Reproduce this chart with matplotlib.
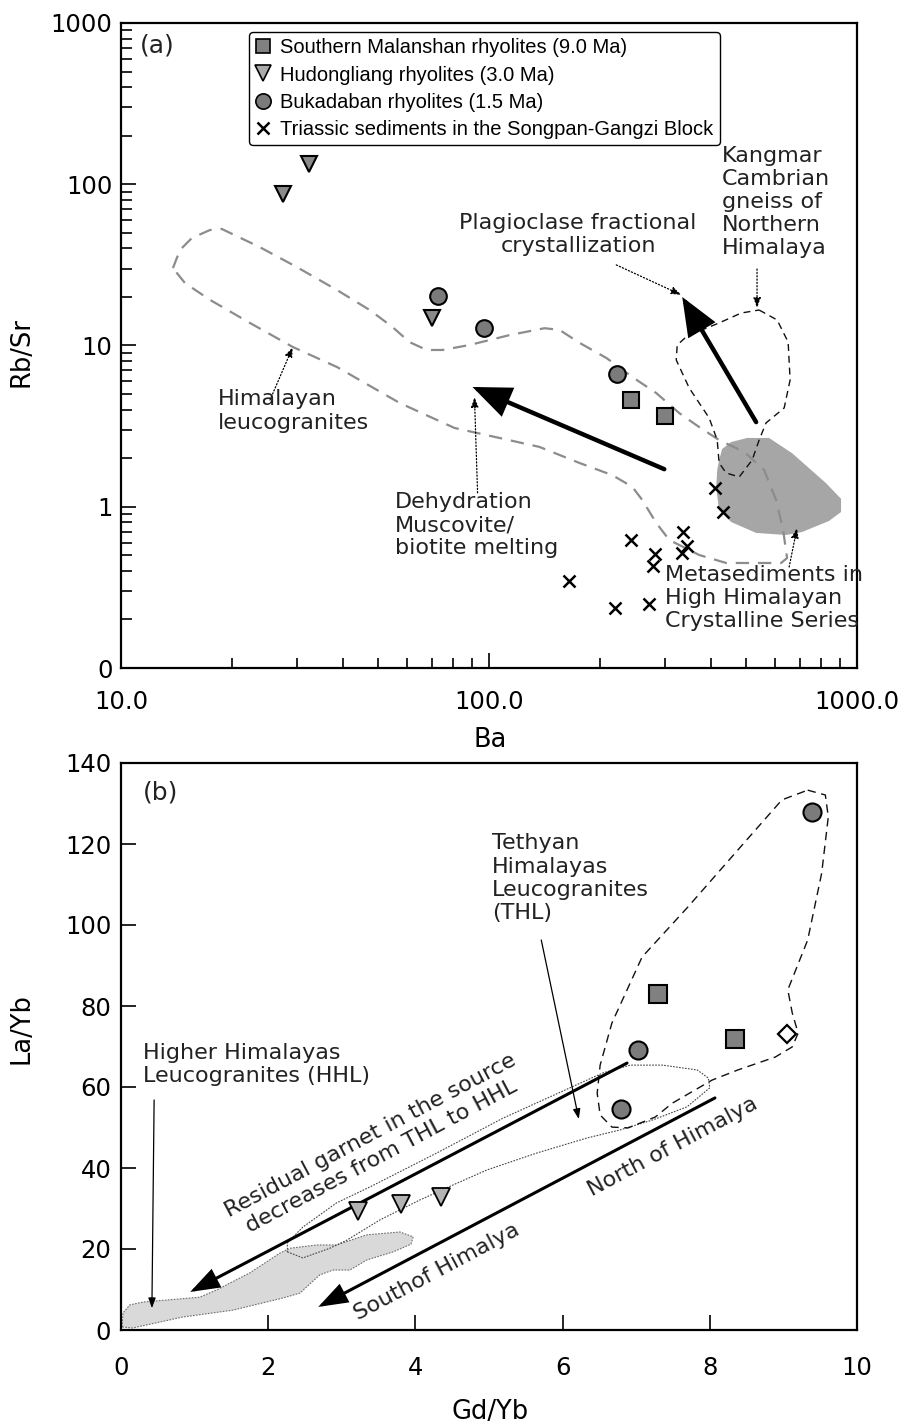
import matplotlib
matplotlib.use('Agg')
import matplotlib.pyplot as plt
from matplotlib.lines import Line2D
from matplotlib.ticker import FixedLocator, LogLocator, NullFormatter

plt.rcParams['font.family'] = 'DejaVu Sans'

# ---------------- (a) Ba vs Rb/Sr ----------------
malanshan_ba = [243.6, 301.3]
malanshan_rbsr = [4.59, 3.65]
hudongliang_ba = [27.5, 32.4, 69.8]
hudongliang_rbsr = [87.0, 133.6, 14.8]
bukadaban_ba = [72.5, 97.2, 223.2]
bukadaban_rbsr = [20.3, 12.8, 6.66]
triassic_ba = [411.8, 433, 243.6, 337, 345.6, 335, 283, 279.6, 165.4, 220.4, 272.6]
triassic_rbsr = [1.31, 0.928, 0.622, 0.697, 0.571, 0.517, 0.509, 0.429, 0.346, 0.236, 0.249]

# Himalayan leucogranite field
leuco_ba = [13.84, 14.46, 15.58, 17.44, 18.79, 23.8, 30.0, 38.6, 47.4, 54.7, 60.8, 67.7,
            74.8, 88.5, 113.7, 141.5, 155.4, 176, 208.4, 245.1, 284.8, 328.8, 372.6, 422.2,
            493.6, 559.2, 602.9, 629.8, 645.7, 622, 441, 372.6, 309, 284.8, 261, 245.1,
            216.3, 176, 137.1, 106.8, 80.6, 57.2, 38.6, 29.3, 22.4, 17.44, 14.92, 13.84]
leuco_rbsr = [30.2, 39.1, 46.4, 52.0, 52.8, 40.8, 30.7, 22.1, 16.6, 13.0, 10.5, 9.38,
              9.38, 10.07, 11.6, 12.8, 12.5, 10.4, 8.37, 6.38, 5.07, 3.81, 3.12, 2.59,
              2.19, 1.69, 1.10, 0.718, 0.481, 0.448, 0.448, 0.502, 0.622, 0.793, 1.10, 1.33,
              1.57, 1.87, 2.35, 2.67, 3.08, 4.40, 7.36, 9.79, 13.8, 19.2, 24.4, 30.2]
# Kangmar Cambrian gneiss field
kangmar_ba = [542, 606.6, 650, 658, 634, 566, 542, 519, 478.5, 441, 422, 417, 396.6,
              350, 322.7, 324.7, 345.6, 422, 484.5, 542]
kangmar_rbsr = [16.6, 14.4, 10.5, 6.11, 4.10, 3.31, 2.59, 1.95, 1.53, 1.62, 1.87, 2.59,
                3.55, 5.45, 8.13, 10.07, 11.45, 13.8, 15.9, 16.6]
# HHCS metasediments field
metased_ba = [422.2, 430, 455, 502.7, 577, 666, 824, 905, 905, 839, 709, 642, 532,
              455, 422, 414.4, 417]
metased_rbsr = [1.95, 2.28, 2.52, 2.67, 2.67, 2.15, 1.40, 1.12, 0.928, 0.816, 0.697,
                0.668, 0.688, 0.804, 0.955, 1.31, 1.69]

# trend arrows (tail, head)
dehydration_arrow = [(299.4, 1.71), (90.2, 5.53)]
plagioclase_arrow = [(532, 3.35), (335, 20.0)]

# ---------------- (b) Gd/Yb vs La/Yb ----------------
malanshan_gdyb = [7.30, 8.34]
malanshan_layb = [83.0, 71.9]
hudongliang_gdyb = [3.22, 3.80, 4.35]
hudongliang_layb = [29.4, 31.1, 32.8]
bukadaban_gdyb = [9.39, 7.02, 6.79]
bukadaban_layb = [127.9, 69.1, 54.6]
other_gdyb = [9.05]
other_layb = [73.1]

hhl_gdyb = [0.014, 0.027, 0.12, 0.30, 1.07, 1.30, 1.75, 2.16, 2.30, 2.66, 2.93, 3.34,
            3.79, 3.97, 3.94, 3.70, 3.34, 3.11, 2.88, 2.70, 2.43, 2.20, 1.52, 0.84, 0.16]
hhl_layb = [0.74, 4.2, 6.2, 6.9, 8.1, 9.9, 14.1, 19.0, 20.2, 21.0, 21.0, 23.5,
            24.2, 23.0, 21.2, 19.3, 17.3, 14.8, 14.8, 13.6, 9.1, 7.9, 4.9, 3.2, 0.5]
thl_gdyb = [2.26, 2.47, 2.84, 3.07, 3.52, 4.06, 4.51, 4.97, 5.65, 6.33, 6.78, 7.23, 7.69,
            8.00, 7.98, 7.83, 7.36, 6.92, 6.55, 6.10, 5.19, 4.29, 3.38, 2.93, 2.47, 2.26]
thl_layb = [19.3, 17.8, 20.2, 22.2, 27.2, 32.1, 35.8, 39.5, 43.7, 47.4, 49.4, 51.9, 55.1,
            59.8, 62.2, 64.2, 65.4, 65.4, 63.5, 59.8, 52.3, 43.7, 35.3, 31.4, 25.4, 21.5]
tethyan_gdyb = [9.33, 9.57, 9.61, 9.52, 9.33, 9.06, 9.12, 9.20, 9.12, 8.89, 8.38, 8.03,
                7.49, 7.26, 6.89, 6.67, 6.51, 6.47, 6.51, 6.67, 7.08, 7.70, 8.38, 8.98]
tethyan_layb = [133.3, 132.1, 126.7, 112.8, 96.3, 84.0, 78.3, 73.3, 69.9, 67.4, 64.2, 61.7,
                56.0, 52.6, 49.9, 50.1, 53.1, 58.5, 65.4, 75.8, 92.1, 104.4, 118.5, 130.9]

garnet_arrow = [(6.875, 65.9), (0.94, 9.4)]
north_south_arrow = [(8.07, 57.3), (2.68, 5.7)]

SQ_COLOR = '#808080'
CI_COLOR = '#7b7b7b'
TRI_A_COLOR = '#8a8a8a'
TRI_B_COLOR = '#b3b3b3'
LABEL_SIZE = 18.5


def closed(xs, ys):
    return list(xs) + [xs[0]], list(ys) + [ys[0]]


def big_arrow(ax, tail, head, lw, hl, hw):
    ax.annotate('', xy=head, xytext=tail,
                arrowprops=dict(arrowstyle=f'-|>,head_length={hl},head_width={hw}',
                                lw=lw, color='k', shrinkA=0, shrinkB=0,
                                mutation_scale=1, joinstyle='miter'), zorder=4)


def pointer(ax, tail, head, ls):
    ax.annotate('', xy=head, xytext=tail,
                arrowprops=dict(arrowstyle='-|>,head_length=6,head_width=2.2',
                                lw=0.9, ls=ls, color='k', shrinkA=0, shrinkB=0,
                                mutation_scale=1), zorder=4)


fig = plt.figure(figsize=(9.1, 14.25), dpi=100)
ax1 = fig.add_axes([121 / 910, 1 - 668 / 1425, 736 / 910, 645 / 1425])
ax2 = fig.add_axes([121 / 910, 1 - 1330 / 1425, 736 / 910, 567 / 1425])

for ax in (ax1, ax2):
    for sp in ax.spines.values():
        sp.set_linewidth(1.6)
    ax.tick_params(which='both', direction='in', labelsize=17.5, width=1.2,
                   top=False, right=False)

# ---- panel (a) ----
ax1.set_xscale('log')
ax1.set_yscale('log')
ax1.set_xlim(10, 1000)
ax1.set_ylim(0.1, 1000)

ax1.fill(metased_ba, metased_rbsr, color='#a6a6a6', lw=0, zorder=1)
lx, ly = closed(leuco_ba, leuco_rbsr)
ax1.plot(lx, ly, color='#8c8c8c', lw=1.6, dashes=(6, 4), zorder=2)
kx, ky = closed(kangmar_ba, kangmar_rbsr)
ax1.plot(kx, ky, color='#111111', lw=1.0, dashes=(5, 3.5), zorder=2)

big_arrow(ax1, dehydration_arrow[0], dehydration_arrow[1], 3.2, 22, 9)
big_arrow(ax1, plagioclase_arrow[0], plagioclase_arrow[1], 3.2, 22, 9)

pointer(ax1, (25.4, 4.59), (29.3, 9.79), ':')
pointer(ax1, (93.1, 1.22), (91.3, 4.79), ':')
pointer(ax1, (221.8, 31.6), (333, 20.6), ':')
pointer(ax1, (535, 29.8), (535, 17.1), ':')
pointer(ax1, (654, 0.423), (687, 0.738), ':')

ax1.plot(triassic_ba, triassic_rbsr, ls='none', marker='x', ms=9, mew=1.8,
         color='k', zorder=5)
ax1.plot(hudongliang_ba, hudongliang_rbsr, ls='none', marker='v', ms=12, mew=1.5,
         mfc=TRI_A_COLOR, mec='k', zorder=5)
ax1.plot(bukadaban_ba, bukadaban_rbsr, ls='none', marker='o', ms=12, mew=1.5,
         mfc=CI_COLOR, mec='k', zorder=5)
ax1.plot(malanshan_ba, malanshan_rbsr, ls='none', marker='s', ms=11.5, mew=1.5,
         mfc=SQ_COLOR, mec='k', zorder=5)

ax1.xaxis.set_major_locator(FixedLocator([10, 100, 1000]))
ax1.set_xticklabels(['10.0', '100.0', '1000.0'])
ax1.xaxis.set_minor_locator(LogLocator(base=10, subs=range(2, 10)))
ax1.xaxis.set_minor_formatter(NullFormatter())
ax1.yaxis.set_major_locator(FixedLocator([0.1, 1, 10, 100, 1000]))
ax1.set_yticklabels(['0', '1', '10', '100', '1000'])
ax1.yaxis.set_minor_locator(LogLocator(base=10, subs=range(2, 10)))
ax1.yaxis.set_minor_formatter(NullFormatter())
ax1.tick_params(axis='x', which='major', length=11, pad=16)
ax1.tick_params(axis='x', which='minor', length=7.5)
ax1.tick_params(axis='y', which='major', length=11, pad=6)
ax1.tick_params(axis='y', which='minor', length=8)

ax1.set_xlabel('Ba', fontsize=LABEL_SIZE)
ax1.set_ylabel('Rb/Sr', fontsize=LABEL_SIZE)
ax1.xaxis.set_label_coords(0.501, -0.091)
ax1.yaxis.set_label_coords(-0.118, 0.49)

tkw = dict(transform=ax1.transAxes, fontsize=16, va='top', color='#222222', zorder=6)
ax1.text(0.026, 0.984, '(a)', **dict(tkw, fontsize=18))
ax1.text(0.8166, 0.810, 'Kangmar\nCambrian\ngneiss of\nNorthern\nHimalaya', ha='left', **tkw)
ax1.text(0.621, 0.705, 'Plagioclase fractional\ncrystallization', ha='center', **tkw)
ax1.text(0.132, 0.432, 'Himalayan\nleucogranites', ha='left', **tkw)
ax1.text(0.372, 0.273, 'Dehydration\nMuscovite/\nbiotite melting', ha='left', **tkw)
ax1.text(0.739, 0.160, 'Metasediments in\nHigh Himalayan\nCrystalline Series', ha='left', **tkw)

handles = [
    Line2D([], [], ls='none', marker='s', ms=10.5, mew=1.2, mfc=SQ_COLOR, mec='k'),
    Line2D([], [], ls='none', marker='v', ms=11.5, mew=1.2, mfc='#ababab', mec='k'),
    Line2D([], [], ls='none', marker='o', ms=11, mew=1.2, mfc=CI_COLOR, mec='k'),
    Line2D([], [], ls='none', marker='x', ms=9, mew=1.8, color='k'),
]
labels = ['Southern Malanshan rhyolites (9.0 Ma)', 'Hudongliang rhyolites (3.0 Ma)',
          'Bukadaban rhyolites (1.5 Ma)', 'Triassic sediments in the Songpan-Gangzi Block']
leg = ax1.legend(handles, labels, loc='upper left', bbox_to_anchor=(0.174, 0.986),
                 prop={'family': 'Liberation Sans', 'size': 14.5}, frameon=True,
                 fancybox=True, edgecolor='k', framealpha=1, borderpad=0.3,
                 labelspacing=0.42, handlelength=0.8, handletextpad=0.45, borderaxespad=0)
leg.get_frame().set_linewidth(1.0)
leg.set_zorder(7)

# ---- panel (b) ----
ax2.set_xlim(0, 10)
ax2.set_ylim(0, 140)

ax2.fill(hhl_gdyb, hhl_layb, facecolor='#d9d9d9', edgecolor='#6f6f6f', lw=0.8,
         ls=(0, (1.5, 1.2)), zorder=1)
tx, ty = closed(thl_gdyb, thl_layb)
ax2.plot(tx, ty, color='#444444', lw=0.8, dashes=(1.5, 1.2), zorder=2)
ex, ey = closed(tethyan_gdyb, tethyan_layb)
ax2.plot(ex, ey, color='#111111', lw=1.0, dashes=(6, 4), zorder=2)

big_arrow(ax2, garnet_arrow[0], garnet_arrow[1], 2.2, 17, 6)
big_arrow(ax2, north_south_arrow[0], north_south_arrow[1], 2.2, 17, 6)
pointer(ax2, (0.45, 56.8), (0.42, 5.4), '-')
pointer(ax2, (5.71, 96.3), (6.22, 52.1), '-')

ax2.plot(hudongliang_gdyb, hudongliang_layb, ls='none', marker='v', ms=12.5, mew=1.3,
         mfc=TRI_B_COLOR, mec='k', zorder=5)
ax2.plot(bukadaban_gdyb, bukadaban_layb, ls='none', marker='o', ms=13, mew=1.5,
         mfc=CI_COLOR, mec='k', zorder=5)
ax2.plot(malanshan_gdyb, malanshan_layb, ls='none', marker='s', ms=12.5, mew=1.5,
         mfc=SQ_COLOR, mec='k', zorder=5)
ax2.plot(other_gdyb, other_layb, ls='none', marker='D', ms=9, mew=1.6,
         mfc='white', mec='k', zorder=5)

ax2.set_xticks([0, 2, 4, 6, 8, 10])
ax2.set_yticks([0, 20, 40, 60, 80, 100, 120, 140])
ax2.tick_params(axis='x', length=11, pad=19)
ax2.tick_params(axis='y', length=11, pad=7)
ax2.set_xlabel('Gd/Yb', fontsize=LABEL_SIZE)
ax2.set_ylabel('La/Yb', fontsize=LABEL_SIZE)
ax2.xaxis.set_label_coords(0.501, -0.121)
ax2.yaxis.set_label_coords(-0.118, 0.531)

tkw2 = dict(transform=ax2.transAxes, fontsize=16, color='#222222', zorder=6)
ax2.text(0.030, 0.970, '(b)', va='top', **dict(tkw2, fontsize=18))
ax2.text(0.504, 0.876, 'Tethyan\nHimalayas\nLeucogranites\n(THL)', va='top', ha='left', **tkw2)
ax2.text(0.030, 0.506, 'Higher Himalayas\nLeucogranites (HHL)', va='top', ha='left', **tkw2)
ax2.text(0.346, 0.3245, 'Residual garnet in the source\ndecreases from THL to HHL',
         ha='center', va='center', rotation=28, multialignment='center', **tkw2)
ax2.text(0.750, 0.3228, 'North of Himalya', ha='center', va='center', rotation=28, **tkw2)
ax2.text(0.429, 0.102, 'Southof Himalya', ha='center', va='center', rotation=28, **tkw2)

fig.savefig('out.png', dpi=100)
